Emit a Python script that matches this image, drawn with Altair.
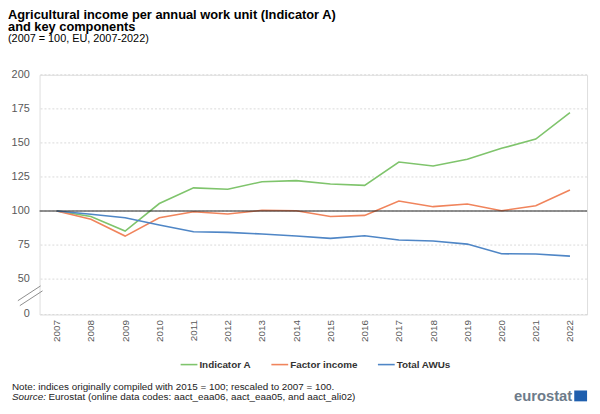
import altair as alt
import pandas as pd

years = [str(y) for y in range(2007, 2023)]
indicator_a = [100, 96, 85.3, 105.5, 117, 116, 121.5, 122.3, 119.8, 118.8, 136, 133, 138, 146, 152.8, 172.3]
factor_income = [100, 94, 81.6, 95, 99.5, 97.8, 100.5, 100.2, 96, 96.8, 107.3, 103.2, 105.1, 100.2, 103.9, 115.4]
total_awus = [100, 97.6, 95, 89.7, 84.8, 84.3, 83.1, 81.6, 79.9, 81.8, 78.7, 78, 75.7, 68.6, 68.4, 66.9]

series_names = ["Indicator A", "Factor income", "Total AWUs"]
series_colors = ["#7fc46c", "#f0845c", "#4f86c6"]
# the lowest tick sits below an axis break and is labelled "0"
y_tick_values = [24, 50, 75, 100, 125, 150, 175, 200]
y_tick_labels = ["0", "50", "75", "100", "125", "150", "175", "200"]

rows = []
for name, vals in zip(series_names, [indicator_a, factor_income, total_awus]):
    for yr, v in zip(years, vals):
        rows.append({"year": yr, "value": v, "series": name})
df = pd.DataFrame(rows)
ticks_df = pd.DataFrame({"v": y_tick_values, "lab": y_tick_labels})

FONT = "Liberation Sans"
W, H = 555, 243

y_scale = alt.Scale(domain=[24, 200], nice=False, zero=False)

x_enc = alt.X(
    "year:O",
    scale=alt.Scale(type="point", padding=0.5),
    axis=alt.Axis(title=None, labelAngle=-90, labelColor="#595959", labelFontSize=10,
                  ticks=False, domain=False, grid=False, labelPadding=5, labelFont=FONT),
)

grid = alt.Chart(ticks_df).mark_rule(color="#d9d9d9", strokeWidth=1, strokeDash=[2, 2]).encode(
    y=alt.Y("v:Q", scale=y_scale, axis=None)
)
grid_labels = alt.Chart(ticks_df).mark_text(
    align="right", baseline="middle", fontSize=11, font=FONT, color="#595959"
).encode(
    y=alt.Y("v:Q", scale=y_scale, axis=None), text="lab:N", x=alt.value(-10)
)

lines = alt.Chart(df).mark_line(strokeWidth=1.6).encode(
    x=x_enc,
    y=alt.Y("value:Q", scale=y_scale, axis=None),
    color=alt.Color(
        "series:N",
        scale=alt.Scale(domain=series_names, range=series_colors),
        sort=series_names,
        legend=alt.Legend(
            title=None, orient="none", legendX=142, legendY=284, direction="horizontal",
            symbolType="stroke", symbolSize=290, symbolStrokeWidth=1.6,
            labelFontSize=10, labelFontWeight="bold", labelColor="#333333", labelFont=FONT,
            columnPadding=16, labelOffset=1,
        ),
    ),
)

base_line = alt.Chart(pd.DataFrame({"v": [100]})).mark_rule(color="#222222", strokeWidth=1).encode(
    y=alt.Y("v:Q", scale=y_scale, axis=None)
)

break_marks = alt.Chart(pd.DataFrame({"k": [0]})).mark_rule(color="#8c8c8c", strokeWidth=1).encode(
    x=alt.value(1), x2=alt.value(-22), y=alt.value(214), y2=alt.value(229)
)
break_marks2 = alt.Chart(pd.DataFrame({"k": [0]})).mark_rule(color="#8c8c8c", strokeWidth=1).encode(
    x=alt.value(3), x2=alt.value(-20), y=alt.value(219), y2=alt.value(234)
)

note = alt.Chart(pd.DataFrame({"t": ["Note: indices originally compiled with 2015 = 100; rescaled to 2007 = 100."]})).mark_text(
    align="left", baseline="middle", fontSize=10, font=FONT, color="#222222"
).encode(text="t:N", x=alt.value(-28), y=alt.value(316))

source_lbl = alt.Chart(pd.DataFrame({"t": ["Source:"]})).mark_text(
    align="left", baseline="middle", fontSize=10, font=FONT, fontStyle="italic", color="#222222"
).encode(text="t:N", x=alt.value(-28), y=alt.value(327))

source_txt = alt.Chart(pd.DataFrame({"t": ["Eurostat (online data codes: aact_eaa06, aact_eaa05, and aact_ali02)"]})).mark_text(
    align="left", baseline="middle", fontSize=10, font=FONT, color="#222222"
).encode(text="t:N", x=alt.value(9), y=alt.value(327))

logo_txt = alt.Chart(pd.DataFrame({"t": ["eurostat"]})).mark_text(
    align="right", baseline="middle", fontSize=15, font=FONT, fontWeight="bold", color="#6d7b8a"
).encode(text="t:N", x=alt.value(540), y=alt.value(326))

logo_flag = alt.Chart(pd.DataFrame({"k": [0]})).mark_rect(color="#1f5fae").encode(
    x=alt.value(542), x2=alt.value(555), y=alt.value(320), y2=alt.value(331)
)

chart = alt.layer(
    grid, grid_labels, lines, base_line, break_marks, break_marks2,
    note, source_lbl, source_txt, logo_txt, logo_flag
).properties(
    width=W,
    height=H,
    autosize=alt.AutoSizeParams(type="none"),
    padding={"left": 32, "top": 65, "right": 5, "bottom": 90},
    title=alt.TitleParams(
        text=["Agricultural income per annual work unit (Indicator A)", "and key components"],
        subtitle="(2007 = 100, EU, 2007-2022)",
        anchor="start", frame="group", dx=-32, offset=25,
        font=FONT, fontSize=13, fontWeight="bold", color="#000000", lineHeight=13,
        subtitleFont=FONT, subtitleFontSize=11, subtitleColor="#000000", subtitlePadding=-1,
    ),
).configure_view(stroke=None).configure(background="white")

chart.save("out.html", embed_options={"renderer": "svg", "actions": False})
